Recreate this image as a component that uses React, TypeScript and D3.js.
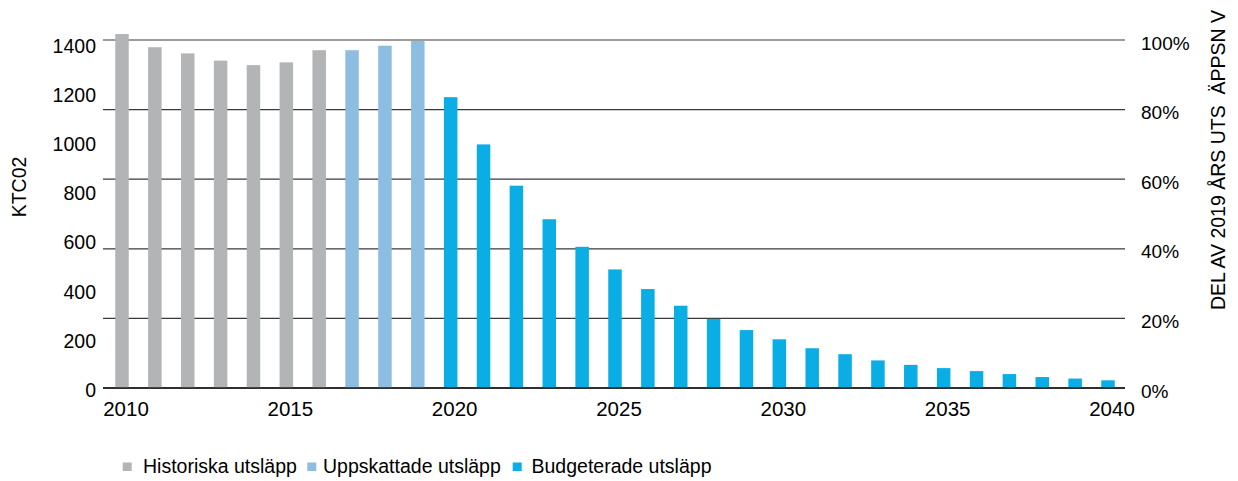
import React from "react";
import * as d3 from "d3";

const years = [2010, 2011, 2012, 2013, 2014, 2015, 2016, 2017, 2018, 2019, 2020, 2021, 2022, 2023, 2024, 2025, 2026, 2027, 2028, 2029, 2030, 2031, 2032, 2033, 2034, 2035, 2036, 2037, 2038, 2039, 2040];
const historical = [1424, 1371, 1346, 1317, 1299, 1310, 1359];
const estimated = [1359, 1377, 1396];
const budgeted = [1170, 980, 814, 679, 568, 477, 398, 331, 278, 233, 196, 160, 136, 111, 93, 80, 68, 56, 44, 38, 31];
const seriesNames = ["Historiska utsläpp", "Uppskattade utsläpp", "Budgeterade utsläpp"];
const seriesColors = ["#b2b4b5", "#8ebde2", "#0aade4"];
const leftTicks = [0, 200, 400, 600, 800, 1000, 1200, 1400];
const rightTicks = [0, 0.2, 0.4, 0.6, 0.8, 1.0];
const xTicks = [2010, 2015, 2020, 2025, 2030, 2035, 2040];
const leftTitle = "KTC02";
const rightTitle = "DEL AV 2019 ÅRS UTS  ÄPPSN V";

export default function App() {
  const W = 1238, H = 481;
  const x = d3.scaleLinear().domain([2010, 2040]).range([122, 1108]);
  const yVal = d3.scaleLinear().domain([0, 1400]).range([388, 40]);
  const yPct = d3.scaleLinear().domain([0, 1]).range([388, 40]);
  const yLabel = d3.scaleLinear().domain([0, 1400]).range([390, 46]);
  const barW = 13.5;
  const font = "'Liberation Sans', Arial, sans-serif";

  const bars: { year: number; v: number; s: number }[] = [];
  let i = 0;
  [historical, estimated, budgeted].forEach((arr, s) => {
    arr.forEach((v) => {
      bars.push({ year: years[i], v, s });
      i++;
    });
  });

  const legendSq = [122.7, 307.3, 512.7];
  const legendTx = [143, 323, 531.5];

  return (
    <svg width={W} height={H} style={{ position: "absolute", left: 0, top: 0, background: "#fff" }} fontFamily={font}>
      {rightTicks.map((t) => (
        <line key={"g" + t} x1={103} x2={1125} y1={yPct(t)} y2={yPct(t)} stroke={t === 0 ? "#222" : "#3a3a3a"} strokeWidth={t === 0 ? 1.6 : 1.2} />
      ))}
      {bars.map((b) => (
        <rect key={b.year} x={x(b.year) - barW / 2} y={yVal(b.v)} width={barW} height={yVal(0) - yVal(b.v)} fill={seriesColors[b.s]} />
      ))}
      <line x1={103} x2={1125} y1={yVal(0)} y2={yVal(0)} stroke="#222" strokeWidth={1.6} />
      {leftTicks.map((t) => (
        <text key={"l" + t} x={96} y={yLabel(t)} dy="0.35em" textAnchor="end" fontSize={19.5} fill="#000">{t}</text>
      ))}
      {rightTicks.map((t) => (
        <text key={"r" + t} x={1141} y={yPct(t) + 3} dy="0.35em" textAnchor="start" fontSize={19} fill="#000">{d3.format(".0%")(t)}</text>
      ))}
      {xTicks.map((t) => (
        <text key={"x" + t} x={x(t) + 4} y={416} textAnchor="middle" fontSize={20.5} fill="#000">{t}</text>
      ))}
      <text transform={`translate(26,187) rotate(-90)`} textAnchor="middle" fontSize={19.5} fill="#000">{leftTitle}</text>
      <text transform={`translate(1225,160) rotate(-90)`} textAnchor="middle" fontSize={19.5} fill="#000" style={{ whiteSpace: "pre" }}>{rightTitle}</text>
      {seriesNames.map((n, k) => (
        <g key={n}>
          <rect x={legendSq[k]} y={462.5} width={9} height={8.5} fill={seriesColors[k]} />
          <text x={legendTx[k]} y={466.5} dy="0.35em" fontSize={19.5} fill="#000">{n}</text>
        </g>
      ))}
    </svg>
  );
}
